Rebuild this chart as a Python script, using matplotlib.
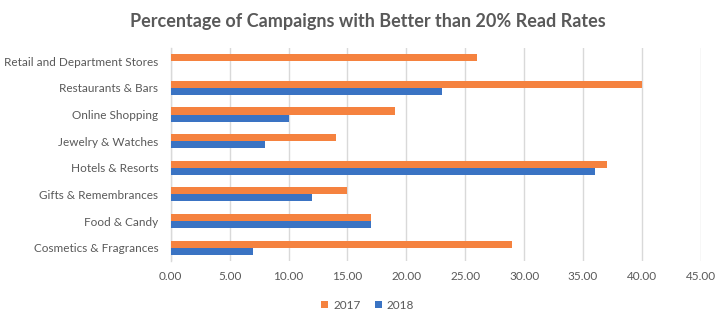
import matplotlib
matplotlib.use("Agg")
import matplotlib.pyplot as plt
import numpy as np
from matplotlib.ticker import FuncFormatter

# Categories listed top to bottom as they appear on the chart
categories = [
    "Retail and Department Stores",
    "Restaurants & Bars",
    "Online Shopping",
    "Jewelry & Watches",
    "Hotels & Resorts",
    "Gifts & Remembrances",
    "Food & Candy",
    "Cosmetics & Fragrances",
]
values_2017 = [26, 40, 19, 14, 37, 15, 17, 29]
values_2018 = [0, 23, 10, 8, 36, 12, 17, 7]
series_labels = ["2017", "2018"]
x_ticks = [0, 5, 10, 15, 20, 25, 30, 35, 40, 45]

ORANGE = "#F5823F"
BLUE = "#3A73C3"
TEXT = "#595959"
GRID = "#D9D9D9"

plt.rcParams["font.family"] = ["Lato", "DejaVu Sans"]

fig = plt.figure(figsize=(7.28, 3.26), dpi=100)
ax = fig.add_axes([0.2345, 0.1994, 0.7281, 0.6534])

n = len(categories)
y = np.arange(n)[::-1]  # first category at the top
h = 0.265

ax.barh(y + h / 2, values_2017, height=h, color=ORANGE, label=series_labels[0], zorder=3)
ax.barh(y - h / 2, values_2018, height=h, color=BLUE, label=series_labels[1], zorder=3)

ax.set_xlim(0, 45)
ax.set_ylim(-0.5, n - 0.5)
ax.set_xticks(x_ticks)
ax.xaxis.set_major_formatter(FuncFormatter(lambda v, p: f"{v:.2f}"))
ax.set_yticks(y)
ax.set_yticklabels(categories)

ax.grid(axis="x", color=GRID, linewidth=1, zorder=0)
ax.set_axisbelow(True)
for side in ("top", "right", "bottom"):
    ax.spines[side].set_visible(False)
ax.spines["left"].set_color(GRID)
ax.spines["left"].set_linewidth(1)

ax.tick_params(axis="both", length=0, labelsize=8.5, labelcolor=TEXT)
ax.tick_params(axis="y", pad=9)
ax.tick_params(axis="x", pad=7)

fig.suptitle("Percentage of Campaigns with Better than 20% Read Rates",
             x=0.505, y=0.96, fontsize=13, fontweight="bold", color=TEXT)

fig.legend(loc="center", bbox_to_anchor=(0.505, 0.064), ncol=2, frameon=False,
           fontsize=8.5, labelcolor=TEXT, handlelength=0.6, handleheight=0.6,
           handletextpad=0.4, columnspacing=1.2)

fig.savefig("out.png", dpi=100)
